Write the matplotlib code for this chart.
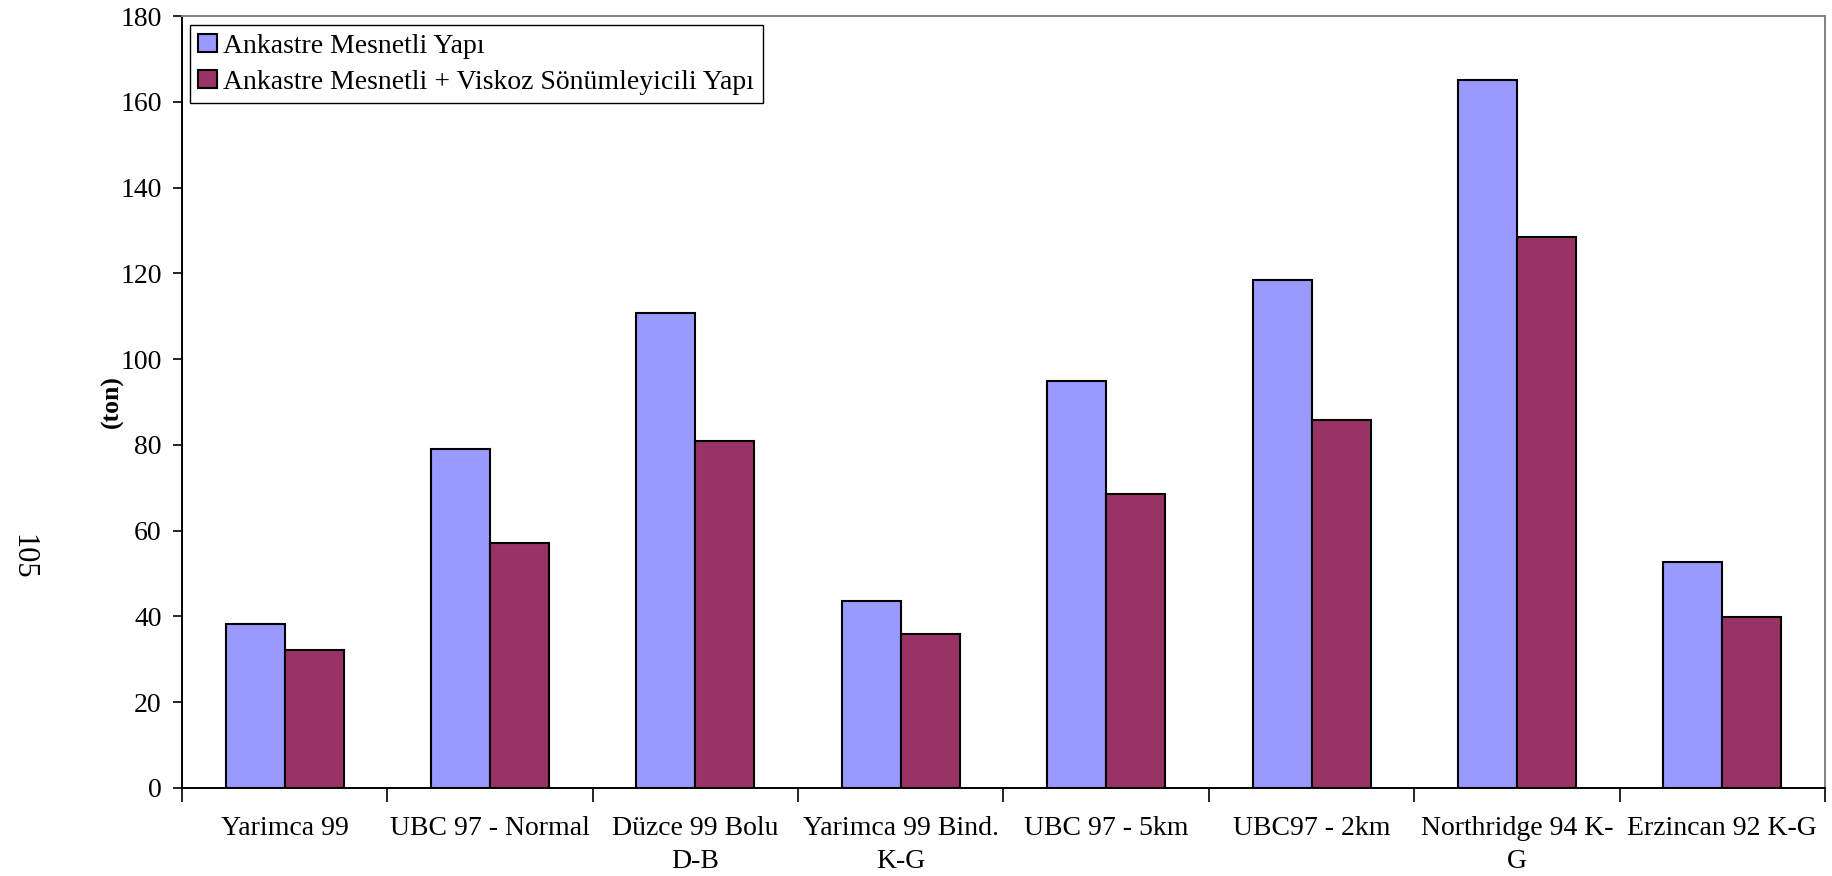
import numpy as np
import matplotlib.pyplot as plt

plt.rcParams['font.family'] = ['Liberation Serif', 'DejaVu Serif']

categories = ['Yarimca 99', 'UBC 97 - Normal', 'Düzce 99 Bolu\nD-B', 'Yarimca 99 Bind.\nK-G',
              'UBC 97 - 5km', 'UBC97 - 2km', 'Northridge 94 K-\nG', 'Erzincan 92 K-G']
ankastre = [38.3, 79.0, 110.7, 43.7, 94.8, 118.4, 165.2, 52.7]
viskoz = [32.2, 57.2, 80.8, 35.8, 68.5, 85.7, 128.5, 39.9]
series_names = ['Ankastre Mesnetli Yapı', 'Ankastre Mesnetli + Viskoz Sönümleyicili Yapı']
yticks = np.arange(0, 181, 20)

fig = plt.figure(figsize=(18.32, 8.76), dpi=100)
ax = fig.add_axes([0.0993, 0.1005, 0.8969, 0.8812])

x = np.arange(len(categories))
w = 0.287
ax.bar(x - w / 2, ankastre, w, color='#9999FF', edgecolor='black', linewidth=1.5, label=series_names[0])
ax.bar(x + w / 2, viskoz, w, color='#993366', edgecolor='black', linewidth=1.5, label=series_names[1])

ax.set_xlim(-0.5, len(categories) - 0.5)
ax.set_ylim(0, 180)
ax.set_yticks(yticks)
ax.tick_params(axis='y', labelsize=20, length=6.5, width=1.2, direction='out', pad=8)

# labels at the centres, tick marks at the category borders
ax.set_xticks(x)
ax.set_xticklabels(categories, fontsize=20, linespacing=1.45)
ax.set_xticks(np.arange(-0.5, len(categories)), minor=True)
ax.tick_params(axis='x', which='major', length=0, pad=20)
ax.tick_params(axis='x', which='minor', length=10, width=1.2, direction='out')

for s in ['left', 'bottom']:
    ax.spines[s].set_color('black')
    ax.spines[s].set_linewidth(1.4)
for s in ['top', 'right']:
    ax.spines[s].set_color('#808080')
    ax.spines[s].set_linewidth(1.4)

ax.set_ylabel('(ton)', fontsize=18.5, fontweight='bold')
ax.yaxis.set_label_coords(-0.0354, 0.5)

leg = ax.legend(loc='upper left', bbox_to_anchor=(0.005, 0.988), fontsize=20,
                fancybox=False, edgecolor='black', framealpha=1, borderaxespad=0,
                handlelength=0.65, handleheight=0.65, handletextpad=0.25,
                borderpad=0.3, labelspacing=0.4)
leg.get_frame().set_linewidth(1.0)

# page number printed sideways on the left margin
fig.text(23 / 1832, 1 - 557 / 876, '105', rotation=-90, fontsize=22, ha='center', va='center')

fig.savefig('out.png', dpi=100)
